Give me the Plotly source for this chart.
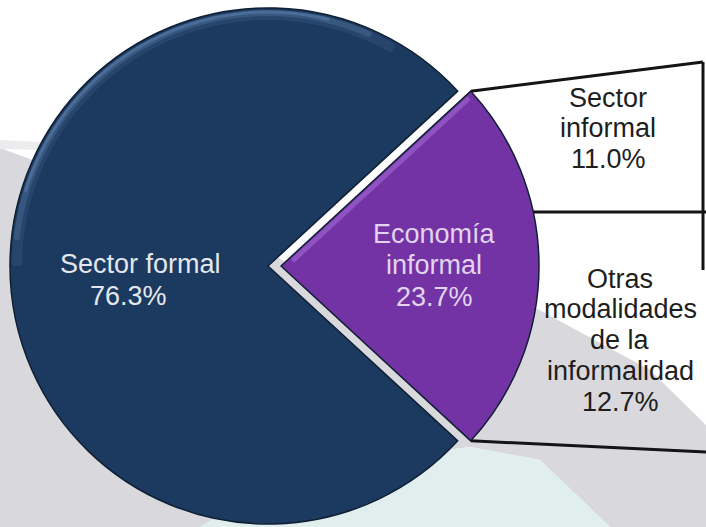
import math
import plotly.graph_objects as go

W, H = 706, 527
FONT = "Liberation Sans, Arial, sans-serif"

# data
pie_labels = ["Economía\ninformal", "Sector formal"]
pie_values = [23.7, 76.3]
detail_labels = ["Sector\ninformal", "Otras\nmodalidades\nde la\ninformalidad"]
detail_values = [11.0, 12.7]

NAVY = "#1c3a5f"
PURPLE = "#7333a5"
EDGE = "#0f1f33"
CLEAR = "rgba(0,0,0,0)"

# pie geometry in pixels
CX, CY, R = 268, 266, 258
SHIFT = 13  # how far the informal slice is pulled out


def px(x):
    return x / W


def py(y):
    return 1 - y / H


def pie_domain(cx):
    return dict(x=[px(cx - R), px(cx + R)], y=[py(CY + R), py(CY - R)])


def poly(points, close=True):
    s = "M" + " L".join(f"{px(x)},{py(y)}" for x, y in points)
    return s + (" Z" if close else "")


rotation = 90 - pie_values[0] * 3.6 / 2

fig = go.Figure()
# sector formal (informal slice left transparent)
fig.add_trace(go.Pie(
    labels=[l.replace("\n", " ") for l in pie_labels], values=pie_values,
    sort=False, direction="clockwise", rotation=rotation,
    marker=dict(colors=[CLEAR, NAVY], line=dict(color=[CLEAR, EDGE], width=1.5)),
    textinfo="none", hoverinfo="label+value", showlegend=False,
    domain=pie_domain(CX),
))
# economia informal, pulled out to the right
fig.add_trace(go.Pie(
    labels=[l.replace("\n", " ") for l in pie_labels], values=pie_values,
    sort=False, direction="clockwise", rotation=rotation,
    marker=dict(colors=[PURPLE, CLEAR], line=dict(color=[EDGE, CLEAR], width=1.5)),
    textinfo="none", hoverinfo="label+value", showlegend=False,
    domain=pie_domain(CX + SHIFT),
))

# background decoration
gray_edge = [(0, 148), (250, 240), (330, 290), (530, 305), (650, 370), (706, 425),
             (706, 527), (610, 527), (540, 460), (470, 447), (300, 470), (200, 527), (0, 527)]
shapes = [
    dict(type="path", layer="below", xref="paper", yref="paper", line=dict(width=0),
         fillcolor="#d9d8dd", path=poly(gray_edge)),
    dict(type="path", layer="below", xref="paper", yref="paper", line=dict(width=0),
         fillcolor="#e1eeee",
         path=poly([(200, 527), (300, 470), (470, 447), (540, 460), (610, 527)])),
    dict(type="path", layer="below", xref="paper", yref="paper", line=dict(width=0),
         fillcolor="#ececee", path=poly([(0, 140), (40, 142), (40, 150), (0, 149)])),
]

# connectors from the pulled slice corners to the detail box
half = math.radians(pie_values[0] * 3.6 / 2)
pcx = CX + SHIFT
top_corner = (pcx + R * math.cos(half), CY - R * math.sin(half))
bot_corner = (pcx + R * math.cos(half), CY + R * math.sin(half))
DIV_Y = 212
div_start = pcx + math.sqrt(R ** 2 - (CY - DIV_Y) ** 2) - 2
line_style = dict(color="#141414", width=3)
for (x0, y0), (x1, y1) in [(top_corner, (703, 62)), (bot_corner, (706, 452)),
                           ((703, 62), (703, 270)), ((div_start, DIV_Y), (706, DIV_Y))]:
    shapes.append(dict(type="line", layer="below", xref="paper", yref="paper",
                       x0=px(x0), y0=py(y0), x1=px(x1), y1=py(y1), line=line_style))

# soft glossy rim on the top of the formal slice
for inset, width, alpha, a0, a1 in [(7, 10, 0.12, 60, 180), (5, 6, 0.2, 66, 174), (4, 3, 0.3, 76, 164)]:
    rim = [(CX + (R - inset) * math.cos(math.radians(a)), CY - (R - inset) * math.sin(math.radians(a)))
           for a in range(a0, a1 + 1, 3)]
    shapes.append(dict(type="path", layer="above", xref="paper", yref="paper",
                       line=dict(color=f"rgba(120,160,205,{alpha})", width=width),
                       path=poly(rim, close=False)))
# light strip along the upper edge of the informal slice
ux, uy = math.cos(half), -math.sin(half)
nx, ny = math.sin(half), math.cos(half)
shapes.append(dict(type="line", layer="above", xref="paper", yref="paper",
                   x0=px(pcx + 12 * ux + 4 * nx), y0=py(CY + 12 * uy + 4 * ny),
                   x1=px(pcx + (R - 6) * ux + 4 * nx), y1=py(CY + (R - 6) * uy + 4 * ny),
                   line=dict(color="rgba(185,130,235,0.4)", width=5)))


def add_text_block(lines, xs, y0, step, color):
    for i, line in enumerate(lines):
        fig.add_annotation(x=px(xs[i] if isinstance(xs, list) else xs), y=py(y0 + i * step),
                           xref="paper", yref="paper", text=line, showarrow=False,
                           xanchor="center", yanchor="middle",
                           font=dict(size=27, color=color, family=FONT))


add_text_block(pie_labels[1].split("\n") + [f"{pie_values[1]:.1f}%"], [140, 128], 263.5, 32, "#e4e8ee")
add_text_block(pie_labels[0].split("\n") + [f"{pie_values[0]:.1f}%"], 434, 233.5, 31.5, "#e2d4ee")
add_text_block(detail_labels[0].split("\n") + [f"{detail_values[0]:.1f}%"], 608, 97.5, 30.5, "#1e1e1e")
add_text_block(detail_labels[1].split("\n") + [f"{detail_values[1]:.1f}%"], 620, 278.5, 30.75, "#1e1e1e")

fig.update_layout(
    width=W, height=H, margin=dict(l=0, r=0, t=0, b=0),
    paper_bgcolor="white", plot_bgcolor="white",
    shapes=shapes,
)
fig.write_html("out.html", config={"displayModeBar": False},
               post_script="document.body.style.margin='0';document.body.style.overflow='hidden';")
